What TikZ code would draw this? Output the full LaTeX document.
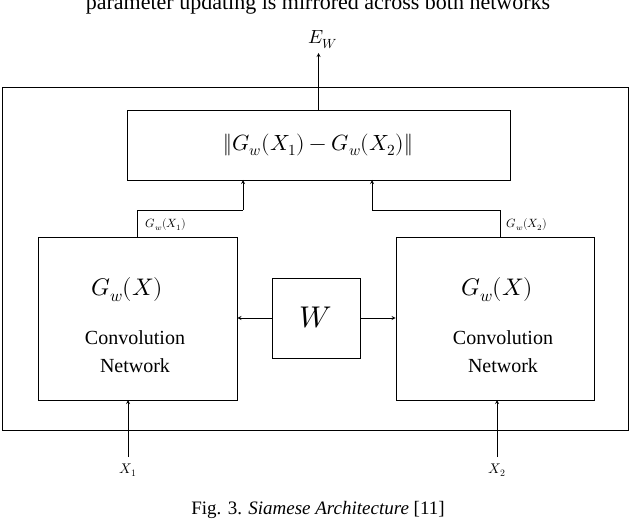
\documentclass[tikz,border=0pt]{standalone}
\usepackage{fontspec}
\setmainfont{Liberation Serif}
\usepackage{unicode-math}
\setmathfont{Latin Modern Math}
\begin{document}
\begin{tikzpicture}[x=1pt,y=-1pt,
  box/.style={draw,line width=0.8pt},
  arr/.style={->,line width=0.8pt,>=stealth},
  ln/.style={line width=0.8pt},
  big/.style={font=\fontsize{24}{28}\selectfont},
  lab/.style={font=\fontsize{20}{24}\selectfont}]
\useasboundingbox (0,0) rectangle (630,524);
\begin{scope}
\clip (0,0) rectangle (630,524);
\node[font=\fontsize{22}{26}\selectfont] (top) at (318,4) {parameter updating is mirrored across both networks};
\end{scope}
\draw[ln] (2,87) rectangle (628,430);
\node[box,minimum width=383pt,minimum height=70pt,font=\fontsize{22}{26}\selectfont] (d) at (318.5,145) {$\left\|G_w(X_1)-G_w(X_2)\right\|$};
\node[box,minimum width=199pt,minimum height=163pt] (L) at (137.5,318.5) {};
\node[box,minimum width=198pt,minimum height=163pt] (R) at (495,318.5) {};
\node[big] (Lg) at (127,290) {$G_w(X)$};
\node[lab] (Lc) at (135,338) {Convolution};
\node[lab] (Ln) at (135,366) {Network};
\node[big] (Rg) at (497,290) {$G_w(X)$};
\node[lab] (Rc) at (503,338) {Convolution};
\node[lab] (Rn) at (503,366) {Network};
\node[box,minimum width=88pt,minimum height=80pt,font=\fontsize{30}{34}\selectfont] (W) at (316,318) {$W$};
\draw[arr] (W.west) -- (L.east |- W.west);
\draw[arr] (W.east) -- (R.west |- W.east);
\node[font=\fontsize{19}{22}\selectfont] (E) at (323,40) {$E_W$};
\draw[arr] (d.north) -- (318.5,53);
\coordinate (l1) at (137,210);
\coordinate (r1) at (500,210);
\draw[ln] (L.north -| l1) -- (l1) -- (243,210);
\draw[arr] (243,210) -- (243,180);
\draw[ln] (R.north -| r1) -- (r1) -- (372,210);
\draw[arr] (372,210) -- (372,180);
\node[font=\fontsize{12}{14}\selectfont] (g1) at (166,225) {$G_w(X_1)$};
\node[font=\fontsize{12}{14}\selectfont] (g2) at (527,225) {$G_w(X_2)$};
\node[font=\fontsize{14}{16}\selectfont] (x1) at (128,470) {$X_1$};
\node[font=\fontsize{14}{16}\selectfont] (x2) at (497,470) {$X_2$};
\draw[arr] (128,457) -- (128,400);
\draw[arr] (497,457) -- (497,400);
\node[font=\fontsize{19}{22}\selectfont] (cap) at (318,510) {Fig. 3. \textit{Siamese Architecture} [11]};
\end{tikzpicture}
\end{document}
